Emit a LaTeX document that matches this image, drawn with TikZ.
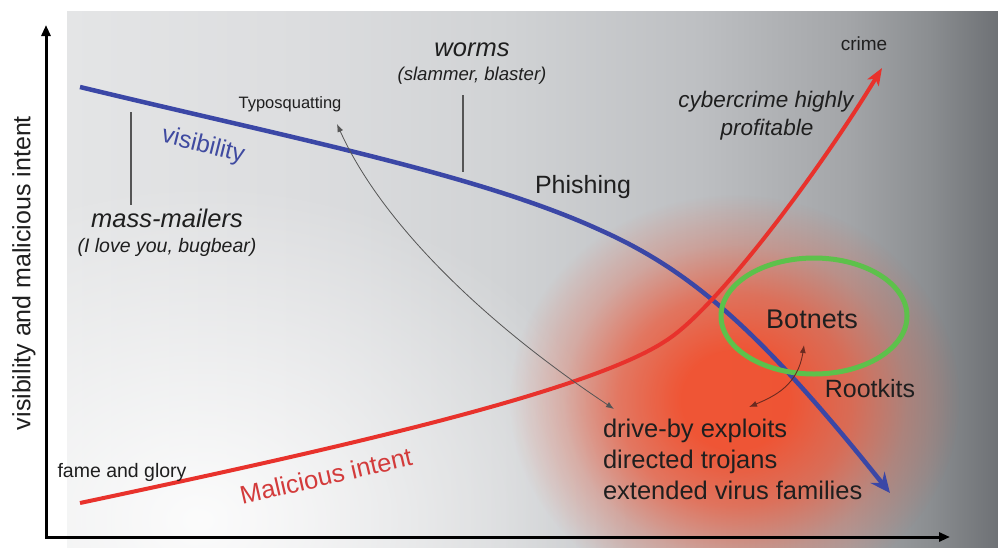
\documentclass[tikz,border=0pt]{standalone}
\usepackage{fontspec}
\setmainfont{Liberation Sans}
\usetikzlibrary{arrows.meta,fadings,shapes.geometric}

\definecolor{bgA}{HTML}{E4E5E6}
\definecolor{bgB}{HTML}{DCDDDF}
\definecolor{bgC}{HTML}{D1D3D5}
\definecolor{bgD}{HTML}{BDBFC2}
\definecolor{bgE}{HTML}{A3A5A8}
\definecolor{bgF}{HTML}{8B8E91}
\definecolor{bgG}{HTML}{6E7175}
\definecolor{glowred}{HTML}{F2502E}
\definecolor{visblue}{HTML}{3B47A6}
\definecolor{vistext}{HTML}{3F4AA0}
\definecolor{malred}{HTML}{E8322C}
\definecolor{maltext}{HTML}{D33B3B}
\definecolor{ringgreen}{HTML}{5DC14B}
\definecolor{leadgray}{HTML}{555555}
\definecolor{smallarr}{HTML}{6A2A20}

\pgfdeclarehorizontalshading{bgshade}{100bp}{color(0bp)=(bgA); color(25bp)=(bgA); color(37.5bp)=(bgB); color(48.3bp)=(bgC); color(59bp)=(bgD); color(67bp)=(bgE); color(71.3bp)=(bgF); color(75bp)=(bgG); color(100bp)=(bgG)}
\pgfdeclareradialshading{glowshade}{\pgfpointorigin}{color(0bp)=(transparent!0); color(6bp)=(transparent!0); color(13bp)=(transparent!30); color(19bp)=(transparent!72); color(25bp)=(transparent!100); color(50bp)=(transparent!100)}
\pgfdeclarefading{glowfade}{\pgfuseshading{glowshade}}
\tikzfading[name=softfade, inner color=transparent!0, outer color=transparent!100]

\tikzset{
  lab/.style={inner sep=0pt, outer sep=0pt, text=black!88},
  sz/.style={font=\fontsize{#1}{31}\selectfont},
  isz/.style={font=\fontsize{#1}{31}\selectfont\itshape},
  axisline/.style={line width=3pt, black, line join=miter},
  visline/.style={line width=4.5pt, visblue, -{Stealth[length=20pt,width=18pt,inset=7pt]}},
  malline/.style={line width=4pt, malred, -{Stealth[length=17pt,width=13pt,inset=4pt]}},
  ringstyle/.style={draw=ringgreen, line width=5pt, ellipse, inner sep=0pt},
  leader/.style={leadgray, line width=1.4pt},
  thinarrow/.style={leadgray, line width=0.8pt, {Latex[length=8pt,width=6pt]}-{Latex[length=8pt,width=6pt]}},
  smallarrow/.style={smallarr, line width=0.9pt, {Latex[length=8pt,width=6pt]}-{Latex[length=8pt,width=6pt]}}
}

\begin{document}
\begin{tikzpicture}[x=1pt,y=-1pt]
\useasboundingbox (0,0) rectangle (998,547);
\fill[white] (0,0) rectangle (998,547);
\shade[shading=bgshade] (67,11) rectangle (998,547);
\begin{scope}
  \clip (67,11) rectangle (998,547);
  \fill[white, opacity=0.9, path fading=softfade] (200,520) ellipse [x radius=430, y radius=340];
  \fill[glowred, opacity=0.95, path fading=glowfade] (735,400) ellipse [x radius=225, y radius=205];
\end{scope}

% axes
\coordinate (ytop) at (46,25);
\coordinate (origin) at (46,537);
\coordinate (xend) at (950,537);
\draw[axisline, {Triangle[length=11pt,width=9pt]}-{Triangle[length=11pt,width=9pt]}] (ytop) -- (origin) -- (xend);
\node[lab, sz=25, rotate=90] (ylab) at (24,273) {visibility and malicious intent};

% visibility curve
\coordinate (visA) at (80,87);
\coordinate (visB) at (600,230);
\coordinate (visC) at (890,493);
\draw[visline] (visA) .. controls (300,140) and (480,175) .. (visB) .. controls (690,270) and (760,330) .. (visC);
\node[lab, sz=24.5, text=vistext, rotate=-14] (vis) at (203,146) {visibility};

% malicious intent curve
\coordinate (malA) at (80,503);
\coordinate (malB) at (667,340);
\coordinate (malC) at (882,68);
\draw[malline] (malA) .. controls (330,450) and (590,392) .. (malB) .. controls (718,307) and (820,170) .. (malC);
\node[lab, sz=25.5, text=maltext, rotate=13] (mal) at (326,476) {Malicious intent};

% labels
\node[lab, isz=25.5, anchor=base] (worms) at (472,56) {worms};
\node[lab, isz=18.6, anchor=base] (wormsex) at (472,80) {(slammer, blaster)};
\node[lab, isz=25.5, anchor=base] (mass) at (167,227) {mass-mailers};
\node[lab, isz=19.5, anchor=base] (massex) at (167,252) {(I love you, bugbear)};
\node[lab, sz=16.5, anchor=base] (typo) at (290,108) {Typosquatting};
\node[lab, sz=25, anchor=base] (phish) at (583,193) {Phishing};
\node[lab, isz=22.5, anchor=base] (cyber) at (766,107) {cybercrime highly};
\node[lab, isz=22.5, anchor=base] (profit) at (767,135) {profitable};
\node[lab, sz=19, anchor=base] (crime) at (864,50) {crime};
\node[lab, sz=19.5, anchor=base] (fame) at (122,477) {fame and glory};
\node[lab, sz=25, anchor=base] (root) at (870,397) {Rootkits};
\node[lab, sz=25.5, anchor=north west, align=left] (drive) at (603,419.5) {drive-by exploits\\directed trojans\\extended virus families};

% botnets ring
\node[ringstyle, minimum width=186pt, minimum height=116pt] (ring) at (814,316) {};
\node[lab, sz=27, anchor=base] (bot) at (812,328) {Botnets};

% leader lines
\coordinate (massTop) at (131,112);
\coordinate (massBot) at (131,205);
\draw[leader] (massTop) -- (massBot);
\coordinate (wormTop) at (463,95);
\coordinate (wormBot) at (463,172);
\draw[leader] (wormTop) -- (wormBot);

% thin arrows
\coordinate (typoTip) at (337,124);
\coordinate (driveTip) at (614,409);
\draw[thinarrow] (typoTip) .. controls (380,220) and (480,320) .. (driveTip);
\coordinate (botTip) at (804,345);
\coordinate (rootTip) at (749,407);
\draw[smallarrow] (botTip) .. controls (798,385) and (775,396) .. (rootTip);
\end{tikzpicture}
\end{document}
